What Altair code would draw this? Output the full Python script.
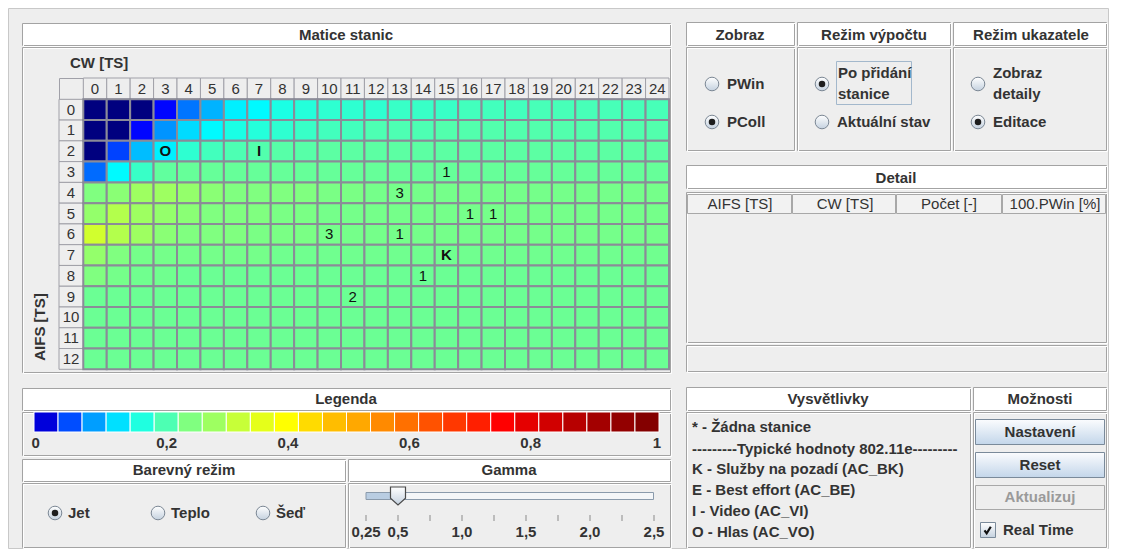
import altair as alt
import pandas as pd

# ------------------------------------------------------------------ data
CW_TS = list(range(25))
AIFS_TS = list(range(13))

# colour position (jet 0..1) of every cell, rows = AIFS 0..12, columns = CW 0..24
PCOLL = [
    [0.00, 0.00, 0.00, 0.13, 0.24, 0.30, 0.36, 0.37, 0.40, 0.41, 0.42, 0.42, 0.42, 0.43, 0.43, 0.43, 0.44, 0.44, 0.44, 0.445, 0.445, 0.445, 0.445, 0.445, 0.445],
    [0.00, 0.00, 0.13, 0.27, 0.34, 0.37, 0.40, 0.41, 0.42, 0.43, 0.44, 0.44, 0.45, 0.45, 0.45, 0.455, 0.455, 0.455, 0.455, 0.455, 0.455, 0.455, 0.455, 0.455, 0.455],
    [0.00, 0.19, 0.31, 0.36, 0.42, 0.44, 0.45, 0.455, 0.46, 0.46, 0.465, 0.465, 0.465, 0.465, 0.465, 0.465, 0.465, 0.465, 0.465, 0.465, 0.465, 0.465, 0.465, 0.465, 0.465],
    [0.23, 0.37, 0.43, 0.47, 0.475, 0.475, 0.475, 0.475, 0.475, 0.475, 0.475, 0.475, 0.475, 0.475, 0.475, 0.475, 0.475, 0.475, 0.475, 0.475, 0.475, 0.475, 0.475, 0.475, 0.475],
    [0.50, 0.51, 0.53, 0.53, 0.52, 0.51, 0.50, 0.50, 0.50, 0.50, 0.495, 0.495, 0.49, 0.49, 0.49, 0.49, 0.49, 0.49, 0.49, 0.49, 0.49, 0.49, 0.49, 0.49, 0.49],
    [0.52, 0.55, 0.53, 0.52, 0.51, 0.50, 0.50, 0.50, 0.495, 0.495, 0.49, 0.49, 0.49, 0.49, 0.49, 0.49, 0.49, 0.49, 0.49, 0.49, 0.49, 0.49, 0.49, 0.49, 0.49],
    [0.58, 0.55, 0.53, 0.51, 0.50, 0.50, 0.50, 0.495, 0.495, 0.495, 0.49, 0.49, 0.49, 0.49, 0.49, 0.49, 0.49, 0.49, 0.49, 0.49, 0.49, 0.49, 0.49, 0.49, 0.49],
    [0.52, 0.50, 0.49, 0.49, 0.49, 0.49, 0.49, 0.49, 0.485, 0.485, 0.485, 0.485, 0.485, 0.485, 0.485, 0.485, 0.485, 0.485, 0.485, 0.485, 0.485, 0.485, 0.485, 0.485, 0.485],
    [0.50, 0.49, 0.485, 0.485, 0.48, 0.48, 0.48, 0.48, 0.48, 0.48, 0.48, 0.48, 0.48, 0.48, 0.48, 0.48, 0.48, 0.48, 0.48, 0.48, 0.48, 0.48, 0.48, 0.48, 0.48],
    [0.48, 0.48, 0.48, 0.48, 0.48, 0.48, 0.48, 0.48, 0.48, 0.48, 0.48, 0.48, 0.48, 0.48, 0.48, 0.48, 0.48, 0.48, 0.48, 0.48, 0.48, 0.48, 0.48, 0.48, 0.48],
    [0.48, 0.48, 0.48, 0.48, 0.48, 0.48, 0.48, 0.48, 0.48, 0.48, 0.48, 0.48, 0.48, 0.48, 0.48, 0.48, 0.48, 0.48, 0.48, 0.48, 0.48, 0.48, 0.48, 0.48, 0.48],
    [0.48, 0.48, 0.48, 0.48, 0.48, 0.48, 0.48, 0.48, 0.48, 0.48, 0.48, 0.48, 0.48, 0.48, 0.48, 0.48, 0.48, 0.48, 0.48, 0.48, 0.48, 0.48, 0.48, 0.48, 0.48],
    [0.48, 0.48, 0.48, 0.48, 0.48, 0.48, 0.48, 0.48, 0.48, 0.48, 0.48, 0.48, 0.48, 0.48, 0.48, 0.48, 0.48, 0.48, 0.48, 0.48, 0.48, 0.48, 0.48, 0.48, 0.48],
]

MARK_AIFS = [2, 2, 3, 4, 5, 5, 6, 6, 7, 8, 9]
MARK_CW = [3, 7, 15, 13, 16, 17, 10, 13, 15, 14, 11]
MARK_TEXT = ["O", "I", "1", "3", "1", "1", "3", "1", "K", "1", "2"]

LEGEND_T = [0.09, 0.20, 0.28, 0.345, 0.405, 0.45, 0.50, 0.53, 0.57, 0.60, 0.625, 0.66, 0.69,
            0.71, 0.74, 0.765, 0.795, 0.82, 0.845, 0.875, 0.90, 0.92, 0.945, 0.965, 0.98, 0.995]
LEGEND_TICKS = [0, 0.2, 0.4, 0.6, 0.8, 1]
LEGEND_LABELS = ["0", "0,2", "0,4", "0,6", "0,8", "1"]

GAMMA_TICKS = [0.25, 0.5, 0.75, 1.0, 1.25, 1.5, 1.75, 2.0, 2.25, 2.5]
GAMMA_LABEL_AT = [0.25, 0.5, 1.0, 1.5, 2.0, 2.5]
GAMMA_LABELS = ["0,25", "0,5", "1,0", "1,5", "2,0", "2,5"]
GAMMA = 0.5

DETAIL_COLS = ["AIFS [TS]", "CW [TS]", "Počet [-]", "100.PWin [%]"]
VYSVETLIVKY = [
    "* - Žádna stanice",
    "---------Typické hodnoty 802.11e---------",
    "K - Služby na pozadí (AC_BK)",
    "E - Best effort (AC_BE)",
    "I - Video (AC_VI)",
    "O - Hlas (AC_VO)",
]

# ------------------------------------------------------------------ tables
hm = pd.DataFrame([{"aifs": a, "cw": c, "v": PCOLL[a][c]} for a in AIFS_TS for c in CW_TS])
marks = pd.DataFrame({"aifs": MARK_AIFS, "cw": MARK_CW, "t": MARK_TEXT})
marks["bold"] = marks["t"].isin(["O", "I", "K"])
cols = pd.DataFrame({"cw": CW_TS, "lab": [str(c) for c in CW_TS]})
rows = pd.DataFrame({"aifs": AIFS_TS, "lab": [str(a) for a in AIFS_TS]})
leg = pd.DataFrame({"i": list(range(len(LEGEND_T))), "t": LEGEND_T})
legt = pd.DataFrame({"v": LEGEND_TICKS, "lab": LEGEND_LABELS})
gt = pd.DataFrame({"g": GAMMA_TICKS})
gl = pd.DataFrame({"g": GAMMA_LABEL_AT, "lab": GAMMA_LABELS})
gv = pd.DataFrame({"lo": [GAMMA_TICKS[0]], "g": [GAMMA]})
ONE = pd.DataFrame({"k": [0]})

# ------------------------------------------------------------------ style
O = 8
FONT = "Liberation Sans"
TXT = "#333333"
GRAY = "#a3a3a3"
JET = alt.Scale(domain=[0, 0.125, 0.375, 0.625, 0.875, 1],
                range=["#00007f", "#0000ff", "#00ffff", "#ffff00", "#ff0000", "#7f0000"],
                interpolate="rgb")

X_HM = alt.Scale(domain=CW_TS, range=[83.3 - O, 669 - O], paddingInner=0, paddingOuter=0)
Y_HM = alt.Scale(domain=AIFS_TS, range=[99.3 - O, 369.3 - O], paddingInner=0, paddingOuter=0)
X_LEG = alt.Scale(domain=list(range(len(LEGEND_T))), range=[34 - O, 659 - O], paddingInner=0, paddingOuter=0)
X_LEGT = alt.Scale(domain=[0, 1], range=[45.4 - O, 651.9 - O], zero=False, nice=False)
X_G = alt.Scale(domain=[0.25, 2.5], range=[366 - O, 654 - O], zero=False, nice=False)

layers = []


def R(x1, y1, x2, y2, fill="transparent", stroke=None, sw=1, **kw):
    m = dict(fill=fill, strokeWidth=sw, **kw)
    if stroke:
        m["stroke"] = stroke
    layers.append(alt.Chart(ONE).mark_rect(**m).encode(
        x=alt.value(x1 - O + 0.5), x2=alt.value(x2 - O + 0.5),
        y=alt.value(y1 - O + 0.5), y2=alt.value(y2 - O + 0.5)))


def ETCH(x1, y1, x2, y2, fill):
    R(x1, y1, x2 - 1, y2 - 1, fill, GRAY)
    R(x1 + 1, y1 + 1, x2, y2, "transparent", "#ffffff")


def T(txt, x, y, size=15, weight="bold", align="center", color=TXT, angle=0):
    layers.append(alt.Chart(ONE).mark_text(
        text=txt, font=FONT, fontSize=size, fontWeight=weight, align=align,
        baseline="middle", color=color, angle=angle).encode(
        x=alt.value(x - O), y=alt.value(y - O)))


GRAD_BTN = alt.LinearGradient(gradient="linear", x1=0, x2=0, y1=0, y2=1,
                              stops=[alt.GradientStop(offset=0, color="#fbfcfe"),
                                     alt.GradientStop(offset=1, color="#c3d6ea")])
GRAD_RADIO = alt.LinearGradient(gradient="linear", x1=0, x2=0, y1=0, y2=1,
                                stops=[alt.GradientStop(offset=0, color="#ffffff"),
                                       alt.GradientStop(offset=1, color="#c4d1df")])


def RADIO(cx, cy, on):
    layers.append(alt.Chart(ONE).mark_circle(size=185, fill=GRAD_RADIO, stroke="#7b8794",
                                             strokeWidth=1, opacity=1).encode(
        x=alt.value(cx - O), y=alt.value(cy - O)))
    if on:
        layers.append(alt.Chart(ONE).mark_circle(size=42, fill="#1e1e1e", opacity=1).encode(
            x=alt.value(cx - O), y=alt.value(cy - O)))


# outer frame
R(0 + O, 0 + O, 1100 + O, 540 + O, "#eeeeee", "#c8c8c8")

# ---------------- Matice stanic
ETCH(22, 23, 671, 46, "#ffffff")
T("Matice stanic", 346, 35)
ETCH(22, 47, 671, 373, "#eeeeee")
T("CW [TS]", 70, 63, align="left")
T("AIFS [TS]", 40, 327, angle=270)
R(59, 78, 83, 99, "#eeeeee", "#a0a0a8")

# column / row headers
layers.append(alt.Chart(cols).mark_rect(fill="#eeeeee", stroke="#a0a0a8", strokeWidth=1).encode(
    x=alt.X("cw:O", scale=X_HM, axis=None), y=alt.value(78 - O), y2=alt.value(99 - O)))
layers.append(alt.Chart(cols).mark_text(font=FONT, fontSize=15, color=TXT, baseline="middle").encode(
    x=alt.X("cw:O", scale=X_HM, axis=None), y=alt.value(89 - O), text="lab:N"))
layers.append(alt.Chart(rows).mark_rect(fill="#eeeeee", stroke="#a0a0a8", strokeWidth=1).encode(
    y=alt.Y("aifs:O", scale=Y_HM, axis=None), x=alt.value(59 - O), x2=alt.value(83.3 - O)))
layers.append(alt.Chart(rows).mark_text(font=FONT, fontSize=15, color=TXT, baseline="middle").encode(
    y=alt.Y("aifs:O", scale=Y_HM, axis=None), x=alt.value(71 - O), text="lab:N"))

# heat map
layers.append(alt.Chart(hm).mark_rect(stroke="#8b8b98", strokeWidth=2).encode(
    x=alt.X("cw:O", scale=X_HM, axis=None),
    y=alt.Y("aifs:O", scale=Y_HM, axis=None),
    color=alt.Color("v:Q", scale=JET, legend=None)))
layers.append(alt.Chart(marks).transform_filter("!datum.bold").mark_text(
    font=FONT, fontSize=15, color="#111111", baseline="middle").encode(
    x=alt.X("cw:O", scale=X_HM, axis=None), y=alt.Y("aifs:O", scale=Y_HM, axis=None), text="t:N"))
layers.append(alt.Chart(marks).transform_filter("datum.bold").mark_text(
    font=FONT, fontSize=15, fontWeight="bold", color="#111111", baseline="middle").encode(
    x=alt.X("cw:O", scale=X_HM, axis=None), y=alt.Y("aifs:O", scale=Y_HM, axis=None), text="t:N"))

# ---------------- Legenda
ETCH(22, 388, 671, 411, "#ffffff")
T("Legenda", 346, 399)
ETCH(22, 412, 671, 456, "#eeeeee")
layers.append(alt.Chart(leg).mark_rect(stroke="#ffffff", strokeWidth=1).encode(
    x=alt.X("i:O", scale=X_LEG, axis=None), y=alt.value(412 - O), y2=alt.value(432 - O),
    color=alt.Color("t:Q", scale=JET, legend=None)))
layers.append(alt.Chart(legt).transform_filter("datum.v > 0 && datum.v < 1").mark_text(
    font=FONT, fontSize=15, fontWeight="bold", color=TXT, baseline="middle").encode(
    x=alt.X("v:Q", scale=X_LEGT, axis=None), y=alt.value(443 - O), text="lab:N"))
layers.append(alt.Chart(legt).transform_filter("datum.v == 0").mark_text(
    font=FONT, fontSize=15, fontWeight="bold", color=TXT, baseline="middle", dx=-9.7).encode(
    x=alt.X("v:Q", scale=X_LEGT, axis=None), y=alt.value(443 - O), text="lab:N"))
layers.append(alt.Chart(legt).transform_filter("datum.v == 1").mark_text(
    font=FONT, fontSize=15, fontWeight="bold", color=TXT, baseline="middle", dx=5).encode(
    x=alt.X("v:Q", scale=X_LEGT, axis=None), y=alt.value(443 - O), text="lab:N"))

# ---------------- Barevný režim
ETCH(22, 459, 346, 482, "#ffffff")
T("Barevný režim", 184, 470)
ETCH(22, 483, 346, 548, "#eeeeee")
RADIO(55, 513, True)
T("Jet", 68, 513, align="left")
RADIO(158, 513, False)
T("Teplo", 171, 513, align="left")
RADIO(263, 513, False)
T("Šeď", 276, 513, align="left")

# ---------------- Gamma
ETCH(348, 459, 671, 482, "#ffffff")
T("Gamma", 509, 470)
ETCH(348, 483, 671, 548, "#eeeeee")
R(366, 492, 653, 499, "#f4f6f8", "#8a9aab")
layers.append(alt.Chart(gv).mark_rect(fill="#b9cde2", stroke="#8a9aab", strokeWidth=1).encode(
    x=alt.X("lo:Q", scale=X_G, axis=None), x2="g:Q",
    y=alt.value(492.5 - O), y2=alt.value(499.5 - O)))
layers.append(alt.Chart(gt).mark_rule(color="#8a8a8a", strokeWidth=1).encode(
    x=alt.X("g:Q", scale=X_G, axis=None), y=alt.value(515 - O), y2=alt.value(521 - O)))
layers.append(alt.Chart(gl).mark_text(font=FONT, fontSize=15, fontWeight="bold", color=TXT,
                                      baseline="middle").encode(
    x=alt.X("g:Q", scale=X_G, axis=None), y=alt.value(532 - O), text="lab:N"))
layers.append(alt.Chart(gv).mark_point(
    shape="M -1 -1.2 L 1 -1.2 L 1 0.3 L 0 1.2 L -1 0.3 Z", size=225, filled=True,
    fill=GRAD_RADIO, stroke="#4a4a4a", strokeWidth=1.2, opacity=1).encode(
    x=alt.X("g:Q", scale=X_G, axis=None), y=alt.value(496 - O)))

# ---------------- Zobraz / Režim výpočtu / Režim ukazatele
ETCH(686, 22, 795, 46, "#ffffff")
T("Zobraz", 740, 35)
ETCH(686, 47, 795, 151, "#eeeeee")
RADIO(712, 84, False)
T("PWin", 727, 84, align="left")
RADIO(712, 122, True)
T("PColl", 727, 122, align="left")

ETCH(797, 22, 951, 46, "#ffffff")
T("Režim výpočtu", 874, 35)
ETCH(797, 47, 951, 151, "#eeeeee")
RADIO(822, 84, True)
R(836, 61, 911, 104, "transparent", "#a3b8cc")
T("Po přidání", 838, 73, align="left")
T("stanice", 838, 94, align="left")
RADIO(822, 122, False)
T("Aktuální stav", 837, 122, align="left")

ETCH(953, 22, 1107, 46, "#ffffff")
T("Režim ukazatele", 1031, 35)
ETCH(953, 47, 1107, 151, "#eeeeee")
RADIO(978, 84, False)
T("Zobraz", 993, 73, align="left")
T("detaily", 993, 94, align="left")
RADIO(978, 122, True)
T("Editace", 993, 122, align="left")

# ---------------- Detail
ETCH(686, 165, 1107, 189, "#ffffff")
T("Detail", 896, 178)
ETCH(686, 192, 1107, 343, "#eeeeee")
col_edges = [687, 792, 896, 1002, 1106]
col_centers = [740, 845, 949, 1055]
for k, name in enumerate(DETAIL_COLS):
    R(col_edges[k], 194, col_edges[k + 1] - 1, 213, "#f2f2f2", "#a8a8a8")
    T(name, col_centers[k], 204, weight="normal")
ETCH(686, 345, 1107, 372, "#eeeeee")

# ---------------- Vysvětlivky
ETCH(686, 387, 971, 411, "#ffffff")
T("Vysvětlivky", 828, 399)
ETCH(686, 412, 971, 548, "#eeeeee")
for k, line in enumerate(VYSVETLIVKY):
    T(line, 692, [427, 449, 469, 490, 511, 532][k], align="left")

# ---------------- Možnosti
ETCH(973, 387, 1107, 411, "#ffffff")
T("Možnosti", 1040, 399)
ETCH(973, 412, 1107, 548, "#eeeeee")
R(975, 419, 1104, 444, GRAD_BTN, "#7a8a9a")
T("Nastavení", 1040, 432)
R(975, 452, 1104, 477, GRAD_BTN, "#7a8a9a")
T("Reset", 1040, 465)
R(975, 485, 1104, 509, "#eeeeee", "#a8a8a8")
T("Aktualizuj", 1040, 497, color="#9a9a9a")
R(980, 522, 995, 537, GRAD_RADIO, "#7a8a9a")
layers.append(alt.Chart(ONE).mark_point(
    shape="M -0.55 0.05 L -0.15 0.6 L 0.6 -0.6", size=120, filled=False,
    stroke="#111111", strokeWidth=2.2, opacity=1).encode(
    x=alt.value(987.5 - O), y=alt.value(530 - O)))
T("Real Time", 1003, 530, align="left")

chart = alt.layer(*layers).resolve_scale(
    x="independent", y="independent", color="independent"
).properties(
    width=1102, height=542, autosize=alt.AutoSizeParams(type="none"), padding=0,
    background="#ffffff"
).configure_view(stroke=None)

chart.save("out.html", embed_options={"renderer": "svg", "actions": False})
